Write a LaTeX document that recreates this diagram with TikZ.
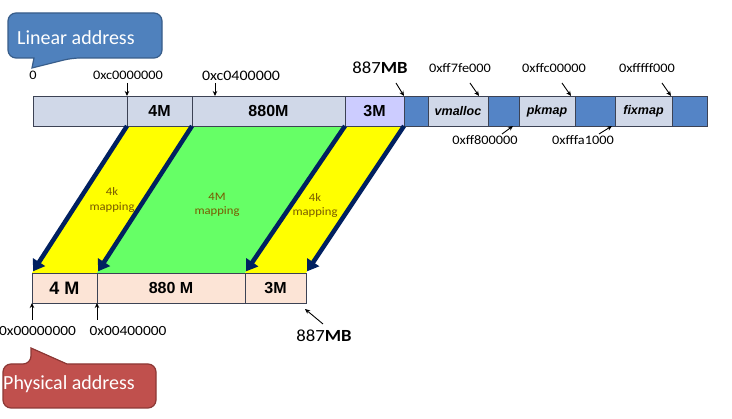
\documentclass[tikz,border=0pt]{standalone}
\usepackage{fontspec}
\setmainfont{Carlito}
\newfontfamily\addrfont[FakeStretch=1.1]{Carlito}
\newfontfamily\arialfont{Liberation Sans}
\usetikzlibrary{arrows.meta,backgrounds}
\definecolor{tgray}{RGB}{208,216,232}
\definecolor{tlav}{RGB}{204,204,255}
\definecolor{tblue}{RGB}{84,132,198}
\definecolor{bpeach}{RGB}{252,228,214}
\definecolor{segline}{RGB}{60,66,84}
\definecolor{mapyellow}{RGB}{255,255,0}
\definecolor{mapgreen}{RGB}{102,255,102}
\definecolor{navy}{RGB}{0,32,96}
\definecolor{maptext}{RGB}{120,90,0}
\definecolor{calblue}{RGB}{79,129,189}
\definecolor{calblueline}{RGB}{56,93,138}
\definecolor{calred}{RGB}{192,80,77}
\definecolor{calredline}{RGB}{140,56,53}
\begin{document}
\begin{tikzpicture}[x=1pt,y=-1pt,
  seg/.style={draw=segline, line width=0.9pt, anchor=north west, inner sep=0pt,
    outer sep=0pt, minimum height=30pt, font=\arialfont\bfseries\fontsize{16}{16}\selectfont},
  tseg/.style={seg, fill=tgray},
  bluseg/.style={seg, fill=tblue},
  bseg/.style={seg, fill=bpeach},
  itseg/.style={seg, fill=tgray, font=\arialfont\bfseries\itshape\fontsize{12.5}{12.5}\selectfont},
  addr/.style={inner sep=0pt, font=\addrfont\fontsize{13}{13}\selectfont},
  bigaddr/.style={inner sep=0pt, font=\addrfont\fontsize{17}{17}\selectfont},
  pointer/.style={-{Stealth[length=5pt,width=4.5pt]}, line width=0.9pt, black},
  maparrow/.style={navy, line width=4.5pt, -{Triangle[length=11pt,width=14pt]}, shorten >=2pt},
  maplabel/.style={inner sep=0pt, text=maptext, align=center, font=\addrfont\fontsize{11.5}{14}\selectfont},
  callout/.style={line width=1.2pt},
  callouttext/.style={anchor=west, inner sep=0pt, text=white, font=\fontsize{20}{20}\selectfont}
]
\useasboundingbox (0,0) rectangle (732,419);

% top bar (linear address)
\node[tseg, minimum width=94pt] (t0) at (33,96) {};
\node[tseg, minimum width=65pt] (t1) at (127,96) {4M};
\node[tseg, minimum width=153pt] (t2) at (192,96) {880M};
\node[seg, fill=tlav, minimum width=59pt] (t3) at (345,96) {3M};
\node[bluseg, minimum width=24pt] (t4) at (404,96) {};
\node[itseg, minimum width=60pt] (t5) at (428,96) {vmalloc};
\node[bluseg, minimum width=31pt] (t6) at (488,96) {};
\node[itseg, minimum width=56pt] (t7) at (519,96) {pkmap};
\node[bluseg, minimum width=40pt] (t8) at (575,96) {};
\node[itseg, minimum width=57pt] (t9) at (615,96) {fixmap};
\node[bluseg, minimum width=35pt] (t10) at (672,96) {};

% bottom bar (physical address)
\node[bseg, minimum width=65pt, font=\arialfont\bfseries\fontsize{18}{18}\selectfont] (b1) at (32,273) {4 M};
\node[bseg, minimum width=148pt] (b2) at (97,273) {880 M};
\node[bseg, minimum width=61pt] (b3) at (245,273) {3M};

% mapping bands
\begin{scope}[on background layer]
  \fill[white] (0,0) rectangle (732,419);
  \fill[mapyellow] (t1.south west) -- (t1.south east) -- (b1.north east) -- (b1.north west) -- cycle;
  \fill[mapgreen] (t2.south west) -- (t2.south east) -- (b2.north east) -- (b2.north west) -- cycle;
  \fill[mapyellow] (t3.south west) -- (t3.south east) -- (b3.north east) -- (b3.north west) -- cycle;
\end{scope}

\draw[maparrow] (t1.south west) -- (b1.north west);
\draw[maparrow] (t2.south west) -- (b2.north west);
\draw[maparrow] (t3.south west) -- (b3.north west);
\draw[maparrow] (t3.south east) -- (b3.north east);

\node[maplabel] (m1) at (112,200) {4k\\mapping};
\node[maplabel] (m2) at (217,205) {4M\\mapping};
\node[maplabel] (m3) at (315,205) {4k\\mapping};

% top labels
\node[addr] (l0) at (33,75) {0};
\node[addr] (lc0) at (128,75) {0xc0000000};
\node[addr, font=\addrfont\fontsize{14.5}{14.5}\selectfont] (lc4) at (241,76) {0xc0400000};
\node[bigaddr] (l887) at (380,68) {887\textbf{MB}};
\node[addr] (lff7) at (460,68) {0xff7fe000};
\node[addr] (lffc) at (554,68) {0xffc00000};
\node[addr] (lfff) at (647,68) {0xfffff000};
\node[addr] (lff8) at (485,140) {0xff800000};
\node[addr] (lffa) at (583,140) {0xfffa1000};

\coordinate (pc0) at (127,83);
\draw[pointer] (pc0) -- (t1.north west);
\coordinate (pc4a) at (215,83);
\coordinate (pc4b) at (215,96);
\draw[pointer] (pc4a) -- (pc4b);
\coordinate (p887) at (396,83);
\draw[pointer] (p887) -- (t4.north west);
\coordinate (pff7a) at (470,83);
\coordinate (pff7b) at (479,96);
\draw[pointer] (pff7a) -- (pff7b);
\coordinate (pffca) at (562,83);
\coordinate (pffcb) at (571,96);
\draw[pointer] (pffca) -- (pffcb);
\coordinate (pfffa) at (662,83);
\coordinate (pfffb) at (671,96);
\draw[pointer] (pfffa) -- (pfffb);
\coordinate (pff8a) at (502,134);
\coordinate (pff8b) at (513,126);
\draw[pointer] (pff8a) -- (pff8b);
\coordinate (pffaa) at (599,134);
\coordinate (pffab) at (612,126);
\draw[pointer] (pffaa) -- (pffab);

% bottom labels
\node[addr, font=\addrfont\fontsize{14}{14}\selectfont] (lp0) at (37.5,331) {0x00000000};
\node[addr, font=\addrfont\fontsize{14}{14}\selectfont] (lp4) at (128,331) {0x00400000};
\node[bigaddr] (lp887) at (324,336) {887\textbf{MB}};
\coordinate (pp0) at (32,320);
\draw[pointer] (pp0) -- (b1.south west);
\coordinate (pp4) at (97,320);
\draw[pointer] (pp4) -- (b2.south west);
\coordinate (pp887a) at (323,324);
\coordinate (pp887b) at (305,309);
\draw[pointer] (pp887a) -- (pp887b);

% callouts
\draw[callout, fill=calblue, draw=calblueline]
  (32,68) -- (34,58) [rounded corners=8pt] -- (8,58) -- (8,13) -- (162,13) -- (162,58) -- (72,58) [sharp corners] -- cycle;
\node[callouttext] (lin) at (17,38) {Linear address};

\draw[callout, fill=calred, draw=calredline]
  (31,348) -- (67,364) [rounded corners=8pt] -- (156,364) -- (156,408) -- (3,408) -- (3,364) -- (31,364) [sharp corners] -- cycle;
\node[callouttext] (phy) at (3,384) {Physical address};
\end{tikzpicture}
\end{document}
